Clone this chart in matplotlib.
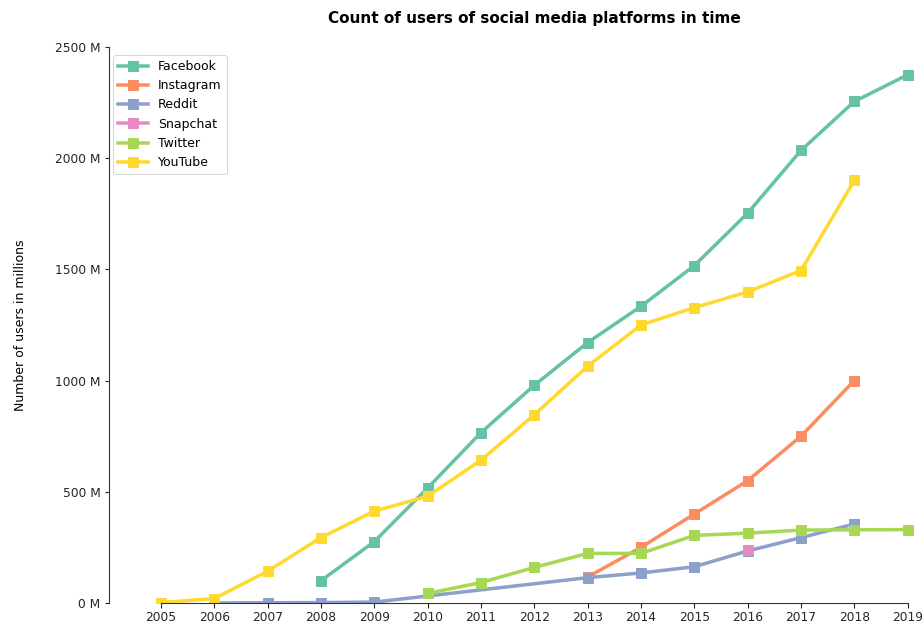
import matplotlib
matplotlib.use("Agg")
import matplotlib.pyplot as plt
from matplotlib.ticker import FuncFormatter

platforms = ["Facebook", "Instagram", "Reddit", "Snapchat", "Twitter", "YouTube"]
colors = ["#66c2a5", "#fc8d62", "#8da0cb", "#e78ac3", "#a6d854", "#ffd92f"]

facebook_years = [2008, 2009, 2010, 2011, 2012, 2013, 2014, 2015, 2016, 2017, 2018, 2019]
facebook_users = [100, 276, 517, 766, 979, 1171, 1334, 1517, 1753, 2035, 2255, 2375]

instagram_years = [2013, 2014, 2015, 2016, 2017, 2018]
instagram_users = [117, 250, 400, 550, 750, 1000]

reddit_years = [2006, 2007, 2008, 2009, 2013, 2014, 2015, 2016, 2017, 2018]
reddit_users = [0, 1, 2, 4, 114, 135, 163, 234, 294, 355]

snapchat_years = [2016]
snapchat_users = [238]

twitter_years = [2010, 2011, 2012, 2013, 2014, 2015, 2016, 2017, 2018, 2019]
twitter_users = [43, 92, 160, 223, 223, 304, 314, 328, 329, 330]

youtube_years = [2005, 2006, 2007, 2008, 2009, 2010, 2011, 2012, 2013, 2014, 2015, 2016, 2017, 2018]
youtube_users = [2, 20, 143, 294, 413, 480, 642, 846, 1065, 1250, 1328, 1399, 1495, 1900]

series = [
    (facebook_years, facebook_users),
    (instagram_years, instagram_users),
    (reddit_years, reddit_users),
    (snapchat_years, snapchat_users),
    (twitter_years, twitter_users),
    (youtube_years, youtube_users),
]


def main():
    W, H = 923, 624
    fig = plt.figure(figsize=(W / 72, H / 72), dpi=72)
    # the original screenshot cuts the axes off on the right
    left, right, top, bottom = 123.6, 945.0, 47.0, 603.0
    ax = fig.add_axes([left / W, 1 - bottom / H, (right - left) / W, (bottom - top) / H])

    for name, color, (years, users) in zip(platforms, colors, series):
        ax.plot(years, users, color=color, linewidth=3.5, marker="s", markersize=9.5, label=name)

    ax.set_xlim(2004.3, 2019.7)
    ax.set_ylim(0, 2500)
    ax.set_xticks(range(2005, 2020))
    ax.set_yticks(range(0, 2501, 500))
    ax.yaxis.set_major_formatter(FuncFormatter(lambda v, p: f"{v:.0f} M"))
    ax.tick_params(labelsize=12.3, colors="#262626", length=4.5, width=1.1)
    for side in ["top", "right"]:
        ax.spines[side].set_visible(False)
    for side in ["left", "bottom"]:
        ax.spines[side].set_color("#333333")
        ax.spines[side].set_linewidth(1.1)
    ax.spines["left"].set_position(("outward", 15))
    ax.spines["left"].set_bounds(0, 2500)
    ax.spines["bottom"].set_bounds(2005, 2019)

    ax.set_ylabel("Number of users in millions", fontsize=12.5, labelpad=28)
    ax.set_title("Count of users of social media platforms in time", fontsize=15.2,
                 fontweight="bold", pad=24)
    ax.legend(loc="upper left", fontsize=12.5, bbox_to_anchor=(113 / W, 1 - 55 / H),
              bbox_transform=fig.transFigure, borderaxespad=0, handlelength=2.4)

    fig.savefig("out.png", dpi=72)


if __name__ == "__main__":
    main()
